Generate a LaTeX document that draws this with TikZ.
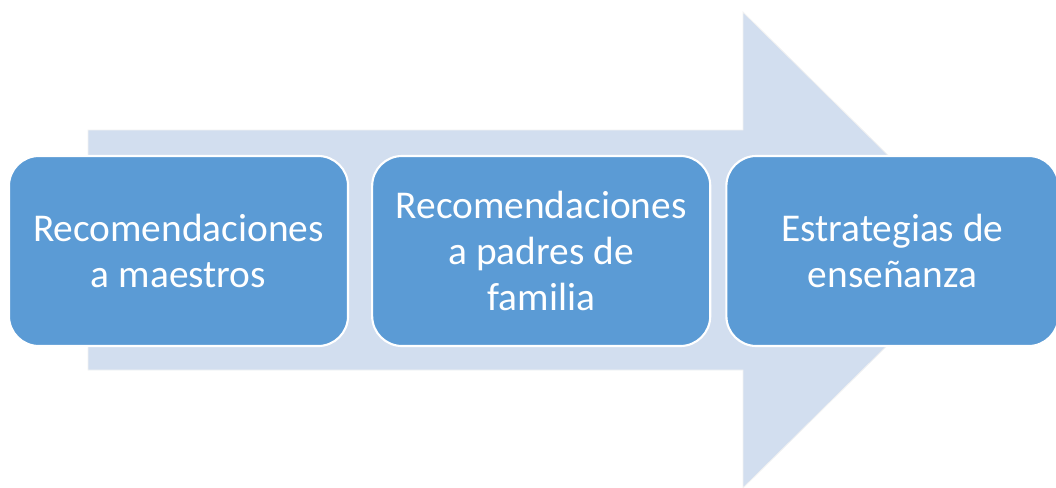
\documentclass[tikz,border=0pt]{standalone}
\usepackage{fontspec}
\setmainfont{Carlito}
\usetikzlibrary{positioning}
\definecolor{boxblue}{HTML}{5B9BD5}
\definecolor{arrowblue}{HTML}{D2DEEF}
\tikzset{
  stagebox/.style={draw=white, line width=1.5pt, fill=boxblue, rounded corners=0.75cm,
    minimum height=4.75cm, text=white, align=center,
    font=\fontsize{28}{32.5}\selectfont},
}
\begin{document}
\begin{tikzpicture}[x=0.025cm, y=-0.025cm]
      \useasboundingbox (0,0) rectangle (1056,487);
      % big arrow behind the boxes
      \fill[arrowblue, draw=white!90!gray, line width=0.6pt]
        (88,130) -- (743,130) -- (743,12) -- (984,250)
        -- (743,488) -- (743,370) -- (88,370) -- cycle;
      \node[stagebox, minimum width=8.475cm] (maestros) at (178.5,251)
        {Recomendaciones\\a maestros};
      \node[stagebox, minimum width=8.45cm, right=0.55cm of maestros] (padres)
        {Recomendaciones\\a padres de\\familia};
      \node[stagebox, minimum width=8.3cm, right=0.35cm of padres] (estrategias)
        {Estrategias de\\enseñanza};
    \end{tikzpicture}
\end{document}
